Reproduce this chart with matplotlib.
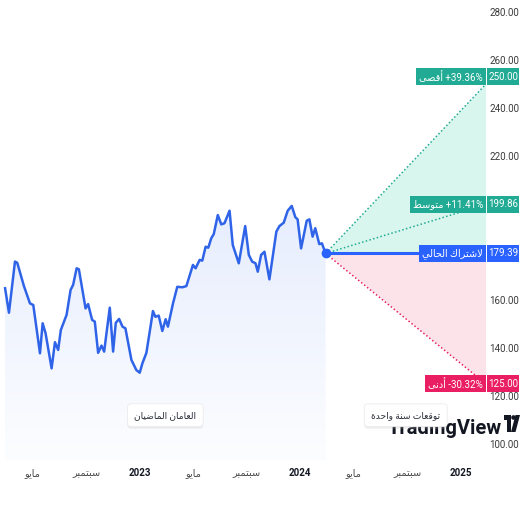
import matplotlib
matplotlib.use("Agg")
import matplotlib.pyplot as plt
import matplotlib.transforms as mtransforms
import matplotlib.patheffects as pe
from matplotlib.patches import Rectangle, Polygon, Circle
from matplotlib.colors import LinearSegmentedColormap
import numpy as np

plt.rcParams['font.family'] = ['Roboto', 'DejaVu Sans']

# price history, x = months since Jan 2023
hist_x = [-10.07, -9.78, -9.33, -9.16, -8.66, -8.21, -7.96, -7.46, -7.26, -7.04,
          -6.59, -6.34, -6.10, -5.90, -5.47, -5.17, -4.98, -4.72, -4.55, -4.05,
          -3.86, -3.56, -3.36, -3.11, -2.86, -2.66, -2.24, -1.99, -1.79, -1.54,
          -1.29, -1.07, -0.62, -0.25, 0.00, 0.20, 0.50, 0.99, 1.17, 1.42,
          1.69, 1.94, 2.11, 2.49, 2.81, 3.19, 3.49, 3.98, 4.18, 4.48,
          4.68, 4.93, 5.13, 5.35, 5.54, 5.84, 6.10, 6.34, 6.72, 6.96,
          7.41, 7.89, 8.16, 8.41, 8.66, 8.83, 9.08, 9.33, 9.70, 10.22,
          10.45, 10.77, 11.07, 11.37, 11.64, 11.81, 12.07, 12.49, 12.69, 12.93,
          13.13, 13.43, 13.63, 13.90]
hist_y = [164.9, 154.7, 176.0, 175.5, 165.8, 158.6, 157.9, 137.8, 150.3, 146.1,
          131.5, 142.4, 139.2, 147.5, 153.8, 164.2, 166.3, 173.2, 172.8, 156.5,
          158.3, 151.7, 151.0, 138.0, 141.0, 138.5, 156.8, 138.5, 150.5, 152.1,
          148.9, 148.2, 135.0, 130.8, 129.7, 133.6, 138.0, 155.4, 153.0, 153.5,
          147.1, 152.0, 148.9, 158.6, 165.5, 165.3, 165.8, 174.6, 173.2, 176.7,
          176.4, 182.2, 181.8, 185.7, 187.5, 195.4, 191.5, 192.0, 197.2, 182.9,
          175.3, 190.8, 178.8, 176.0, 175.3, 171.8, 178.8, 180.1, 168.6, 188.5,
          190.8, 192.2, 197.2, 199.2, 194.5, 193.6, 181.5, 193.0, 193.6, 186.4,
          189.9, 183.3, 183.6, 179.39]

current = 179.39
target_max = 250.00
target_avg = 199.86
target_min = 125.00
pct_max = "+39.36%"
pct_avg = "+11.41%"
pct_min = "-30.32%"
horizon = 12  # months

tick_pos = [-8, -4, 0, 4, 8, 12, 16, 20, 24]
tick_labels = ["مايو", "سبتمبر", "2023", "مايو", "سبتمبر", "2024", "مايو", "سبتمبر", "2025"]
y_ticks = [100, 120, 140, 160, 180, 200, 220, 240, 260, 280]

BLUE = '#2962ff'
GREEN = '#22ab94'
PINK = '#e91e63'
FS = 7


# --- tiny arabic shaper (matplotlib has no shaping / bidi) ---
FORMS = {
    'ا': (0xFE8D, False), 'أ': (0xFE83, False), 'ب': (0xFE8F, True),
    'ة': (0xFE93, False), 'ت': (0xFE95, True), 'ح': (0xFEA1, True),
    'د': (0xFEA9, False), 'ر': (0xFEAD, False), 'س': (0xFEB1, True),
    'ش': (0xFEB5, True), 'ص': (0xFEB9, True), 'ض': (0xFEBD, True),
    'ط': (0xFEC1, True), 'ع': (0xFEC9, True), 'ق': (0xFED5, True),
    'ك': (0xFED9, True), 'ل': (0xFEDD, True), 'م': (0xFEE1, True),
    'ن': (0xFEE5, True), 'و': (0xFEED, False), 'ى': (0xFEEF, False),
    'ي': (0xFEF1, True),
    '\uFEFB': (0xFEFB, False), '\uFEF7': (0xFEF7, False),
}
LAM_ALEF = {'ا': '\uFEFB', 'أ': '\uFEF7'}


def ar(text):
    if not any(c in FORMS for c in text):
        return text
    toks = []
    i = 0
    while i < len(text):
        c = text[i]
        if c == 'ل' and i + 1 < len(text) and text[i + 1] in LAM_ALEF:
            toks.append(LAM_ALEF[text[i + 1]])
            i += 2
        else:
            toks.append(c)
            i += 1
    res = []
    for k, c in enumerate(toks):
        if c not in FORMS:
            res.append(c)
            continue
        base, dual = FORMS[c]
        prev = toks[k - 1] if k > 0 else None
        nxt = toks[k + 1] if k + 1 < len(toks) else None
        jp = prev in FORMS and FORMS[prev][1]
        jn = dual and nxt in FORMS
        res.append(chr(base + (1 if jp else 0) + (2 if jn else 0)))
    return ''.join(reversed(res))


fig = plt.figure(figsize=(5.2, 5.2), dpi=100)
fig.patch.set_facecolor('white')
ax = fig.add_axes([0, 60 / 520, 486 / 520, 460 / 520])
ax.set_facecolor('white')

y_bottom, y_top = 93.33, 285.0
x_left = -10.45
cur_x = hist_x[-1]
end_x = cur_x + horizon

# gradient area under history
poly = ax.fill_between(hist_x, hist_y, y_bottom, color='none', lw=0)
cmap = LinearSegmentedColormap.from_list('g', ['#fcfdff', '#e6edfd'])
grad = np.linspace(0, 1, 256).reshape(-1, 1)
im = ax.imshow(grad, extent=[hist_x[0], cur_x, y_bottom, max(hist_y)], origin='lower',
               aspect='auto', cmap=cmap, zorder=1, interpolation='bicubic')
im.set_clip_path(poly.get_paths()[0], transform=ax.transData)

# forecast cone
ax.add_patch(Polygon([(cur_x, current), (end_x, target_max), (end_x, current)],
                     closed=True, fc='#d9f6ee', ec='none', zorder=1))
ax.add_patch(Polygon([(cur_x, current), (end_x, current), (end_x, target_min)],
                     closed=True, fc='#fce3ea', ec='none', zorder=1))
ax.plot([cur_x, end_x], [current, target_max], ls=(0, (1, 1.5)), color=GREEN, lw=1.1, zorder=2)
ax.plot([cur_x, end_x], [current, target_avg], ls=(0, (1, 1.5)), color=GREEN, lw=1.1, zorder=2)
ax.plot([cur_x, end_x], [current, target_min], ls=(0, (1, 1.5)), color=PINK, lw=1.1, zorder=2)
ax.plot([cur_x, end_x], [current, current], color=BLUE, lw=2.2, zorder=3)

ax.plot(hist_x, hist_y, color='#2f63e8', lw=1.8, zorder=4, solid_joinstyle='round')
ax.plot([cur_x], [current], 'o', ms=6, color=BLUE, zorder=5)

ax.set_xlim(x_left, end_x)
ax.set_ylim(y_bottom, y_top)

for s in ax.spines.values():
    s.set_visible(False)
ax.yaxis.tick_right()
ax.set_yticks(y_ticks)
ax.set_yticklabels([f"{v:.2f}" for v in y_ticks])
ax.tick_params(axis='y', length=0, pad=2.5, labelsize=FS, labelcolor='#3a3a3a')
# ticks that sit under a price label are hidden, as on the original
for v, lab in zip(y_ticks, ax.get_yticklabels()):
    if min(abs(v - p) for p in (current, target_avg)) < 3:
        lab.set_visible(False)
ax.set_xticks(tick_pos)
ax.set_xticklabels([ar(t) for t in tick_labels])
ax.tick_params(axis='x', length=0, pad=6, labelsize=FS, labelcolor='#4a4a4a')
for lab in ax.get_xticklabels():
    if lab.get_text().isdigit():
        lab.set_fontweight('bold')
        lab.set_color('#131722')

# right side price labels
trans = mtransforms.blended_transform_factory(ax.transAxes, ax.transData)
px = 1 / 486
unit = 460 / (y_top - y_bottom)
box_h = 17 / unit
labels = [
    (target_max, 3.0, ar('أقصى') + ' ' + pct_max, GREEN),
    (target_avg, 0.0, ar('متوسط') + ' ' + pct_avg, GREEN),
    (current, 0.0, ar('لاشتراك الحالي'), BLUE),
    (target_min, 0.0, ar('أدنى') + ' ' + pct_min, PINK),
]
renderer = fig.canvas.get_renderer()
for val, shift, txt, col in labels:
    yc = val + shift
    t = ax.text(1 - 3 * px, yc, txt, transform=trans, ha='right', va='center',
                color='white', fontsize=FS, clip_on=False, zorder=9)
    bb = t.get_window_extent(renderer)
    w = (ax.bbox.x1 - bb.x0) / ax.bbox.width + 3 * px
    ax.add_patch(Rectangle((1 - w, yc - box_h / 2), w, box_h, transform=trans,
                           fc=col, ec='none', clip_on=False, zorder=8))
    ax.add_patch(Rectangle((1 + 1 * px, yc - box_h / 2), 32 * px, box_h, transform=trans,
                           fc=col, ec='none', clip_on=False, zorder=8))
    ax.text(1 + 17 * px, yc, f"{val:.2f}", transform=trans, ha='center', va='center',
            color='white', fontsize=FS, clip_on=False, zorder=9)

# TradingView watermark
ax.text(1 + 16 * px, 106.4, "TradingView", transform=trans, ha='right', va='center',
        fontsize=14.5, fontweight='bold', color='#131722', clip_on=False, zorder=6)


def fpx(x, y):
    return (x / 520, 1 - y / 520)


fig.add_artist(Polygon([fpx(503.5, 415), fpx(511, 415), fpx(511, 432), fpx(507, 432),
                        fpx(507, 420), fpx(503.5, 420)], closed=True,
                       transform=fig.transFigure, fc='#131722', ec='none'))
fig.add_artist(Circle(fpx(513.5, 417.5), 2.3 / 520, transform=fig.transFigure,
                      fc='#131722', ec='none'))
fig.add_artist(Polygon([fpx(515.5, 415), fpx(520, 415), fpx(515.5, 432), fpx(511, 432)],
                       closed=True, transform=fig.transFigure, fc='#131722', ec='none'))

# period captions
for xc, txt in [((hist_x[0] + cur_x) / 2, 'العامان الماضيان'),
                ((cur_x + end_x) / 2, 'توقعات سنة واحدة')]:
    t = ax.text(xc, 112.0, ar(txt), ha='center', va='center', fontsize=6.6,
                color='#2a2e39', zorder=10,
                bbox=dict(boxstyle='round,pad=0.75,rounding_size=0.4', fc='white',
                          ec='#ececec', lw=0.6))
    t.get_bbox_patch().set_path_effects([pe.withSimplePatchShadow(offset=(0, -1.5),
                                                                  shadow_rgbFace='#bbbbbb',
                                                                  alpha=0.25)])

fig.savefig('out.png', dpi=100, facecolor='white')
